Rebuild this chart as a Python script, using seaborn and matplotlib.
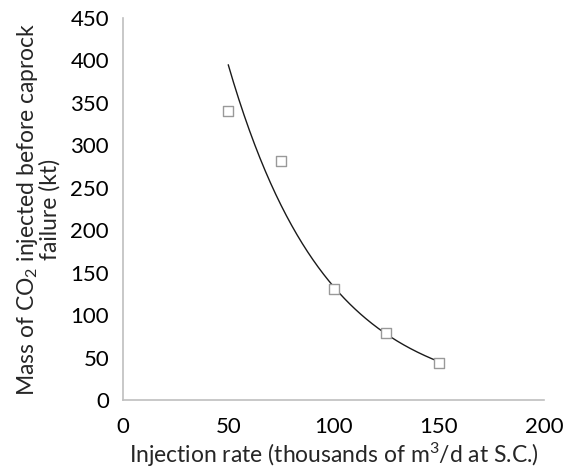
import numpy as np
import pandas as pd
import matplotlib
matplotlib.use("Agg")
import matplotlib.pyplot as plt
import seaborn as sns

# Injection rate (thousands of m3/d at S.C.) and CO2 mass injected before caprock failure (kt)
injection_rate = [50, 75, 100, 125, 150]
mass_injected = [341, 282, 131, 79, 43]
x_ticks = [0, 50, 100, 150, 200]
y_ticks = [0, 50, 100, 150, 200, 250, 300, 350, 400, 450]

sns.set_theme(style="white")
plt.rcParams["font.family"] = ["Lato", "DejaVu Sans"]
plt.rcParams["mathtext.default"] = "regular"

df = pd.DataFrame({"rate": injection_rate, "mass": mass_injected})

# Exponential trendline fitted to the points
b, a = np.polyfit(df["rate"], np.log(df["mass"]), 1)
xs = np.linspace(min(injection_rate), max(injection_rate), 200)
trend = pd.DataFrame({"rate": xs, "mass": np.exp(a + b * xs)})

fig = plt.figure(figsize=(5.64, 4.76), dpi=100)
ax = fig.add_axes([123 / 564, 1 - 400 / 476, (544 - 123) / 564, (400 - 18) / 476])

sns.lineplot(data=trend, x="rate", y="mass", ax=ax, color="#1a1a1a", linewidth=1.0)
sns.scatterplot(data=df, x="rate", y="mass", ax=ax, marker="s", s=45,
                facecolor="white", edgecolor="#999999", linewidth=1.0, zorder=3)

ax.set_xlim(0, 200)
ax.set_ylim(0, 450)
ax.set_xticks(x_ticks)
ax.set_yticks(y_ticks)
ax.tick_params(axis="both", labelsize=16, colors="#bfbfbf", labelcolor="black",
               length=5, width=1, direction="out", pad=5)
ax.tick_params(axis="x", pad=7)
for side in ["top", "right"]:
    ax.spines[side].set_visible(False)
for side in ["left", "bottom"]:
    ax.spines[side].set_color("#bfbfbf")
    ax.spines[side].set_linewidth(1.2)

ax.set_xlabel("Injection rate (thousands of m$^3$/d at S.C.)", fontsize=16.5, labelpad=3)
ax.set_ylabel("Mass of CO$_2$ injected before caprock\nfailure (kt)", fontsize=16.5,
              labelpad=7, linespacing=0.95)

fig.savefig("out.png", dpi=100)
